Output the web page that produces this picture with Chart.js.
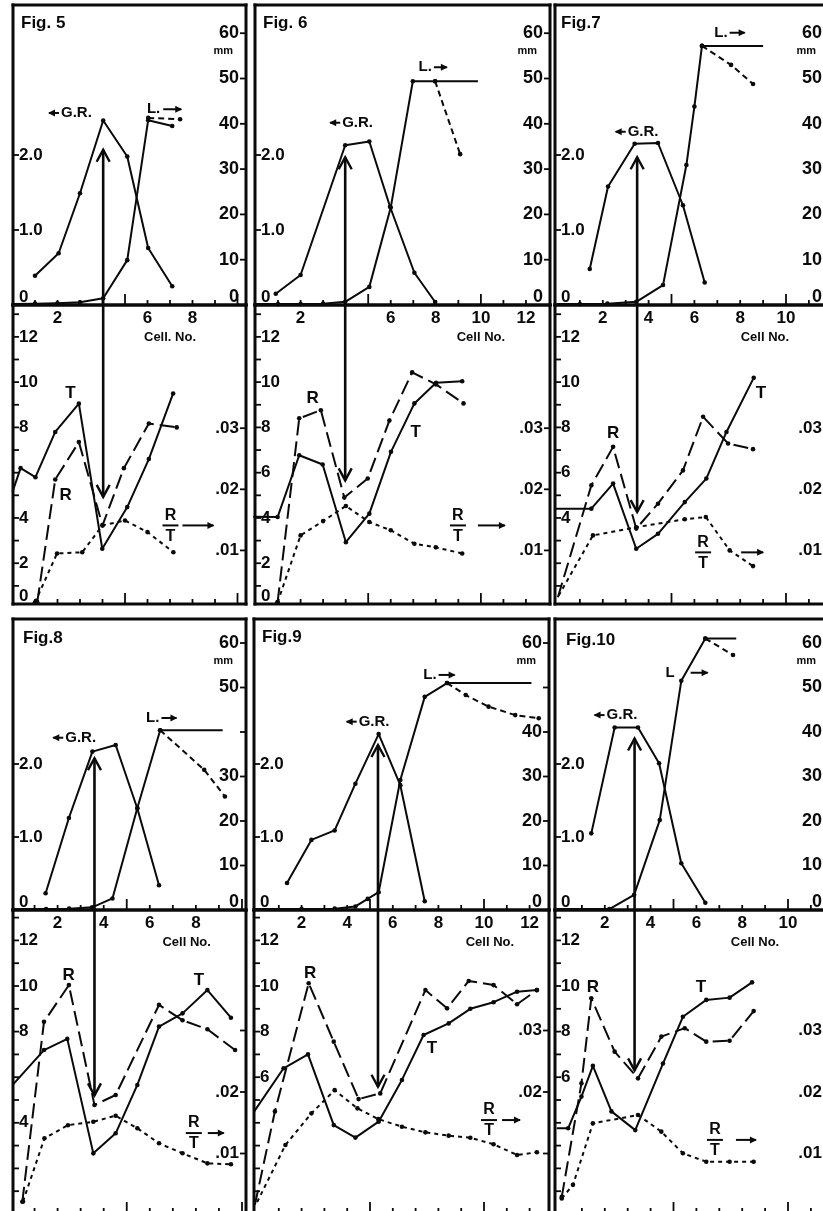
<!DOCTYPE html>
<html><head><meta charset="utf-8">
<script src="https://cdn.jsdelivr.net/npm/chart.js@4.4.0/dist/chart.umd.min.js"></script>
<style>
html,body{margin:0;padding:0;background:#fff;overflow:hidden;width:823px;height:1211px;position:relative;}
canvas{position:absolute;}
</style></head><body>
<script>
// ---------------- DATA (cell number, value) ----------------
// Fig 5
const fig5GR = [[1,0.39],[2.05,0.69],[3,1.49],[4.03,2.46],[5.1,1.98],[6.03,0.76],[7.1,0.25]];
const fig5L = [[0,0.2],[1,0.3],[2,0.4],[3,0.6],[4.03,1.5],[5.1,9.9],[6.03,40.8],[7.1,39.5]];
const fig5Ldash = [[6.03,41.3],[7.45,41.0]];
const fig5T = [[0,5.15],[0.36,6.2],[1.02,5.8],[1.9,7.8],[2.95,9.05],[3.99,2.64],[5.1,4.48],[6.06,6.6],[7.14,9.5]];
const fig5R = [[1.1,0.28],[1.9,5.7],[2.95,7.35],[4.0,3.67],[4.95,6.2],[6.06,8.17],[7.3,8.0]];
const fig5RT = [[1.0,0.0015],[1.98,0.0095],[3.1,0.0097],[4.0,0.0141],[5.0,0.0149],[6.0,0.0130],[7.15,0.0097]];
const fig5Arrow = [4.03, 2.07, 4.93];
// Fig 6
const fig6GR = [[0.9,0.15],[2.0,0.4],[3.98,2.13],[5.05,2.18],[5.97,1.31],[7.05,0.43],[7.97,0.04]];
const fig6L = [[0,0.2],[1,0.2],[2,0.2],[3,0.3],[3.98,0.7],[5.05,4.0],[6.0,21.5],[6.98,49.4],[7.97,49.4],[9.87,49.4]];
const fig6Ldash = [[7.97,49.4],[9.08,33.3]];
const fig6T = [[-0.1,4.05],[0.98,4.04],[1.94,6.77],[2.98,6.36],[4.01,2.93],[5.05,4.19],[6.01,6.92],[7.05,9.06],[8.01,9.97],[9.17,10.04]];
const fig6R = [[0.98,0.28],[1.94,8.4],[2.9,8.76],[3.94,4.9],[4.98,5.74],[5.94,8.3],[6.95,10.43],[8.01,9.9],[9.23,9.06]];
const fig6RT = [[0.98,0.0015],[2.0,0.01246],[3.0,0.0148],[4.01,0.01727],[5.05,0.01464],[6.0,0.0133],[7.05,0.0111],[8.0,0.0105],[9.17,0.0095]];
const fig6Arrow = [3.98, 1.97, 5.66];
// Fig 7
const fig7GR = [[1.43,0.48],[2.23,1.58],[3.39,2.15],[4.41,2.16],[5.5,1.33],[6.45,0.30]];
const fig7L = [[0,0.2],[1,0.2],[2.2,0.3],[3.46,0.7],[4.63,4.4],[5.65,30.9],[6.0,43.8],[6.33,57.2],[9.0,57.2]];
const fig7Ldash = [[6.33,57.2],[7.6,53.0],[8.56,48.8]];
const fig7T = [[-0.1,4.41],[1.5,4.41],[2.45,5.52],[3.46,2.64],[4.41,3.30],[5.58,4.7],[6.52,5.74],[7.4,7.8],[8.59,10.19]];
const fig7R = [[0.04,0.5],[1.5,5.44],[2.45,7.14],[3.46,3.53],[4.41,4.63],[5.5,6.1],[6.38,8.47],[7.47,7.29],[8.56,7.04]];
const fig7RT = [[0.07,0.0026],[1.57,0.01246],[3.46,0.0138],[5.58,0.0151],[6.5,0.01546],[7.54,0.0100],[8.56,0.00743]];
const fig7Arrow = [3.5, 1.97, 4.26];
// Fig 8
const fig8GR = [[1.48,0.23],[2.49,1.26],[3.51,2.17],[4.52,2.26],[5.46,1.39],[6.4,0.34]];
const fig8L = [[0.1,0.2],[1.5,0.2],[2.5,0.3],[3.5,0.6],[4.38,2.6],[5.46,22.9],[6.45,40.4],[9.16,40.4]];
const fig8Ldash = [[6.45,40.4],[8.36,31.5],[9.26,25.5]];
const fig8T = [[0.05,5.66],[1.41,7.19],[2.42,7.68],[3.55,2.66],[4.52,3.54],[5.46,5.66],[6.4,8.22],[7.42,8.8],[8.5,9.82],[9.52,8.61]];
const fig8R = [[0.47,0.54],[1.41,8.43],[2.49,10.04],[3.6,4.78],[4.52,5.22],[6.4,9.17],[7.42,8.5],[8.5,8.1],[9.7,7.19]];
const fig8RT = [[0.5,0.0022],[1.43,0.01247],[2.45,0.0146],[3.55,0.01517],[4.52,0.01615],[5.46,0.0141],[6.4,0.01166],[7.42,0.01003],[8.5,0.0084],[9.52,0.00824]];
const fig8Arrow = [3.6, 2.08, 5.2];
// Fig 9
const fig9GR = [[1.36,0.37],[2.43,0.96],[3.45,1.09],[4.36,1.73],[5.38,2.41],[6.33,1.71],[7.4,0.12]];
const fig9L = [[-0.1,0.2],[2,0.2],[3.45,0.3],[4.36,0.8],[4.9,2.5],[5.38,4.0],[6.33,29.2],[7.4,47.9],[8.38,51.0],[12.08,51.0]];
const fig9Ldash = [[8.38,51.0],[9.2,48.3],[10.2,45.7],[11.37,43.8],[12.4,43.1]];
const fig9T = [[-0.1,4.47],[1.21,6.39],[2.28,7.0],[3.41,3.9],[4.36,3.35],[5.38,4.05],[6.4,5.88],[7.35,7.85],[8.45,8.36],[9.4,9.0],[10.42,9.29],[11.45,9.75],[12.32,9.82]];
const fig9R = [[-0.05,0.4],[0.83,4.5],[2.31,10.12],[3.41,7.56],[4.5,5.04],[5.45,5.29],[7.43,9.82],[8.38,9.02],[9.33,10.22],[10.42,10.04],[11.45,9.2],[12.32,9.82]];
const fig9RT = [[0.05,0.0021],[1.29,0.01138],[2.43,0.01653],[3.45,0.0203],[4.45,0.01734],[5.36,0.0156],[6.4,0.01436],[7.43,0.01344],[8.45,0.0129],[9.4,0.01257],[10.42,0.0115],[11.45,0.00976],[12.32,0.0102]];
const fig9Arrow = [5.35, 2.26, 5.58];
// Fig 10
const fig10GR = [[1.41,1.05],[2.43,2.5],[3.45,2.5],[4.37,2.01],[5.34,0.64],[6.39,0.10]];
const fig10L = [[-0.1,0.2],[2.2,0.2],[3.28,3.4],[4.4,20.2],[5.34,51.5],[6.39,61.0],[7.74,61.0]];
const fig10Ldash = [[6.39,61.0],[7.6,57.3]];
const fig10T = [[-0.1,3.76],[0.4,3.76],[0.98,5.15],[1.48,6.5],[2.29,4.5],[3.33,3.68],[4.54,6.6],[5.41,8.65],[6.43,9.39],[7.45,9.49],[8.43,10.16]];
const fig10R = [[0.12,0.75],[0.98,5.73],[1.41,9.46],[2.43,7.12],[3.45,5.95],[4.47,7.78],[5.49,8.15],[6.43,7.56],[7.45,7.6],[8.5,8.9]];
const fig10RT = [[0.12,0.0027],[0.61,0.0049],[1.48,0.0149],[3.45,0.01626],[4.47,0.01355],[5.41,0.01003],[6.43,0.00867],[7.45,0.00867],[8.5,0.00867]];
const fig10Arrow = [3.3, 2.35, 6.3];

// ---------------- TICK LABELS ----------------
const grTickLabels = [0, 1, 2];
const lTickMarks = [10, 20, 30, 40, 50, 60];
const lLabelsA = [0, 10, 20, 30, 40, 50, 60];
const lLabels8 = [0, 10, 20, 30, 50, 60];
const lLabels9 = [0, 10, 20, 30, 40, 60];
const tLabels5 = [0, 2, 4, 8, 10, 12];
const tLabels6 = [0, 2, 4, 6, 8, 10, 12];
const tLabels7 = [4, 6, 8, 10, 12];
const tLabels8 = [4, 8, 10, 12];
const tLabels9 = [6, 8, 10, 12];
const tLabels10 = [6, 8, 10, 12];
const rtTickMarks = [0.01, 0.02, 0.03];
const rtLabelsA = [0.01, 0.02, 0.03];
const rtLabels8 = [0.01, 0.02];
const rtLabels9 = [0.02, 0.03];
const xLabels5 = [2, 6, 8];
const xLabels6 = [2, 6, 8, 10, 12];
const xLabels7 = [2, 4, 6, 8, 10];
const xLabels8 = [2, 4, 6, 8];
const xLabels9 = [2, 4, 6, 8, 10, 12];
const xLabels10 = [2, 4, 6, 8, 10];

// ---------------- STYLE / LAYOUT ----------------
const INK = '#0a0a0a';
const FF = '"Liberation Sans", Arial, sans-serif';
const ROWS = {
  top: {frameTop:5, mid:305, bottom:603.5, grZero:305, grPx:75, lZero:305, lPx:4.53, tZero:608, tPx:22.6, rtZero:611, rtPx:6100},
  bot: {frameTop:619, mid:910, bottom:1213, grZero:910, grPx:73, lZero:910, lPx:4.45, tZero:1214, tPx:22.8, rtZero:1215, rtPx:6150}
};

const fmtGR = v => v === 0 ? '0' : v.toFixed(1);
const fmtInt = v => String(v);
const fmtRT = v => v.toFixed(2).replace(/^0/, '');

const paper = {
  id: 'paper',
  afterDatasetsDraw(chart, args, o) {
    const ctx = chart.ctx, a = chart.chartArea, S = chart.scales, xs = S.x;
    ctx.save();
    ctx.strokeStyle = INK; ctx.fillStyle = INK; ctx.lineCap = 'butt';
    const seg = (x1, y1, x2, y2, w) => { ctx.lineWidth = w; ctx.beginPath(); ctx.moveTo(x1, y1); ctx.lineTo(x2, y2); ctx.stroke(); };
    const F = 3;
    if (o.sides.includes('t')) seg(a.left - 1.5, a.top, a.right + 1.5, a.top, F);
    if (o.sides.includes('b')) seg(a.left - 1.5, a.bottom, a.right + 1.5, a.bottom, F);
    if (o.sides.includes('l')) seg(a.left, a.top - 1.5, a.left, a.bottom + 1.5, F);
    if (o.sides.includes('r')) seg(a.right, a.top - 1.5, a.right, a.bottom + 1.5, F);
    // x tick marks (inward, up)
    for (let c = Math.ceil(xs.min); c <= xs.max; c++) {
      if (c <= 0) continue;
      const px = xs.getPixelForValue(c);
      if (px > a.right - 3) continue;
      seg(px, a.bottom, px, a.bottom - (c % 5 === 0 ? 11 : 5), 1.8);
    }
    // y axes
    for (const ax of o.axes) {
      const sc = S[ax.id];
      const left = ax.side === 'l';
      const edge = left ? a.left : a.right;
      for (const v of ax.marks) {
        const py = sc.getPixelForValue(v);
        if (py < a.top + 2 || py > a.bottom - 2) continue;
        seg(edge, py, edge + (left ? 6 : -6), py, 1.8);
      }
      ctx.font = ax.font; ctx.textAlign = left ? 'left' : 'right'; ctx.textBaseline = 'middle';
      for (const v of ax.labels) {
        let py = sc.getPixelForValue(v);
        py = Math.min(py, a.bottom - 8);
        ctx.fillText(ax.fmt(v), edge + (left ? ax.off : -ax.off), py);
      }
      if (ax.unit) {
        ctx.font = 'bold 11px ' + FF;
        ctx.fillText(ax.unit, edge - 13, sc.getPixelForValue(ax.unitAt) + 18);
      }
    }
    // x labels below bottom line
    if (o.xLabels) {
      ctx.font = 'bold 17px ' + FF; ctx.textAlign = 'center'; ctx.textBaseline = 'middle';
      for (const v of o.xLabels) ctx.fillText(String(v), xs.getPixelForValue(v), a.bottom + o.xLabelDy);
      ctx.font = 'bold 13px ' + FF;
      ctx.fillText(o.cellText, xs.getPixelForValue(o.cellX), a.bottom + o.cellDy);
    }
    // title
    if (o.title) {
      ctx.font = 'bold 17px ' + FF; ctx.textAlign = 'left'; ctx.textBaseline = 'middle';
      ctx.fillText(o.title.t, a.left + o.title.dx, a.top + o.title.dy);
    }
    const smallArrow = (x1, x2, y) => {
      seg(x1, y, x2, y, 2);
      const d = x2 > x1 ? 1 : -1;
      ctx.beginPath(); ctx.moveTo(x2 + d * 1, y); ctx.lineTo(x2 - d * 6, y - 3.5); ctx.lineTo(x2 - d * 6, y + 3.5); ctx.closePath(); ctx.fill();
    };
    // text labels
    for (const t of (o.texts || [])) {
      const px = xs.getPixelForValue(t.x), py = S[t.axis].getPixelForValue(t.y);
      ctx.font = t.font || ('bold 16px ' + FF); ctx.textAlign = 'center'; ctx.textBaseline = 'middle';
      ctx.fillText(t.t, px, py);
      const w = ctx.measureText(t.t).width;
      if (t.arrowL) smallArrow(px - w / 2 - t.arrowL[0], px - w / 2 - t.arrowL[0] - t.arrowL[1], py);
      if (t.arrowR) smallArrow(px + w / 2 + t.arrowR[0], px + w / 2 + t.arrowR[0] + t.arrowR[1], py);
    }
    // fraction R/T
    if (o.frac) {
      const f = o.frac;
      const px = xs.getPixelForValue(f.x), py = S[f.axis].getPixelForValue(f.y);
      ctx.font = 'bold 16px ' + FF; ctx.textAlign = 'center'; ctx.textBaseline = 'middle';
      ctx.fillText('R', px, py - 10);
      seg(px - 8, py, px + 8, py, 2);
      ctx.fillText('T', px, py + 11);
      smallArrow(px + f.a0, px + f.a1, py);
    }
    // big arrow head
    if (o.head) {
      const h = o.head;
      const px = xs.getPixelForValue(h.x), py = S[h.axis].getPixelForValue(h.y);
      const d = h.dir === 'up' ? 1 : -1;
      ctx.lineWidth = 2.4; ctx.lineJoin = 'miter';
      ctx.beginPath(); ctx.moveTo(px - 6.5, py + d * 12); ctx.lineTo(px, py); ctx.lineTo(px + 6.5, py + d * 12); ctx.stroke();
    }
    ctx.restore();
  }
};

function pts(arr) { return arr.map(p => ({x: p[0], y: p[1]})); }

function lineDS(data, axis, dash, xMin, extra) {
  return Object.assign({
    data: pts(data), yAxisID: axis, borderColor: INK, backgroundColor: INK,
    borderWidth: 2, borderDash: dash, borderJoinStyle: 'round',
    pointRadius: c => (c.raw && c.raw.x < xMin + 0.2) ? 0 : 2.3,
    pointBackgroundColor: INK, pointBorderWidth: 0, pointHoverRadius: 0,
    tension: 0, fill: false, clip: 3
  }, extra || {});
}

function shaft(x, y1, y2, axis) {
  return {data: [{x: x, y: y1}, {x: x, y: y2}], yAxisID: axis, borderColor: INK, borderWidth: 2.6, pointRadius: 0, fill: false, clip: 0};
}

function yScale(min, max, pos) {
  return {type: 'linear', axis: 'y', position: pos, min: min, max: max, display: false};
}

function makeChart(rect, padBottom, scales, datasets, paperOpts) {
  const pad = 6;
  const cv = document.createElement('canvas');
  const w = Math.round(rect.r - rect.l + 2 * pad), h = Math.round(rect.b - rect.t + pad + padBottom);
  cv.width = w; cv.height = h;
  cv.style.left = (rect.l - pad) + 'px'; cv.style.top = (rect.t - pad) + 'px';
  cv.style.width = w + 'px'; cv.style.height = h + 'px';
  document.body.appendChild(cv);
  new Chart(cv, {
    type: 'line', data: {datasets},
    options: {
      responsive: false, animation: false, devicePixelRatio: 1,
      layout: {padding: {left: pad, right: pad, top: pad, bottom: padBottom}},
      plugins: {legend: {display: false}, tooltip: {enabled: false}, paper: paperOpts},
      scales, events: []
    },
    plugins: [paper]
  });
}

function figure(f) {
  const R = ROWS[f.row];
  const xMin = (f.left - f.x0) / f.unit, xMax = (f.right - f.x0) / f.unit;
  const grMax = (R.grZero - R.frameTop) / R.grPx;
  const lMax = (R.lZero - R.frameTop) / R.lPx;
  const tMin = (R.tZero - R.bottom) / R.tPx, tMax = (R.tZero - R.mid) / R.tPx;
  const rtMin = (R.rtZero - R.bottom) / R.rtPx, rtMax = (R.rtZero - R.mid) / R.rtPx;
  const X = {type: 'linear', axis: 'x', position: 'bottom', min: xMin, max: xMax, display: false};
  const tMarks = []; for (let v = 1; v <= 13; v++) tMarks.push(v);
  const lbl = 'bold 17px ' + FF;
  // lower panel
  makeChart({l: f.left, r: f.right, t: R.mid, b: R.bottom}, 6, {
    x: X,
    yT: yScale(tMin, tMax, 'left'),
    yRT: yScale(rtMin, rtMax, 'right')
  }, [
    lineDS(f.T, 'yT', [], xMin),
    lineDS(f.R, 'yT', [15, 6], xMin),
    lineDS(f.RT, 'yRT', [4, 4], xMin),
    shaft(f.arrow[0], tMax, f.arrow[2], 'yT')
  ], {
    sides: 'lrbt',
    axes: [
      {id: 'yT', side: 'l', marks: tMarks, labels: f.tLabels, fmt: fmtInt, font: lbl, off: 6},
      {id: 'yRT', side: 'r', marks: rtTickMarks, labels: f.rtLabels, fmt: fmtRT, font: lbl, off: 7}
    ],
    texts: [
      {t: 'T', x: f.tText[0], y: f.tText[1], axis: 'yT', font: 'bold 17px ' + FF},
      {t: 'R', x: f.rText[0], y: f.rText[1], axis: 'yT', font: 'bold 17px ' + FF}
    ],
    frac: {x: f.frac[0], y: f.frac[1], axis: 'yT', a0: f.frac[2], a1: f.frac[3]},
    head: {x: f.arrow[0], y: f.arrow[2], axis: 'yT', dir: 'down'}
  });
  // upper panel
  makeChart({l: f.left, r: f.right, t: R.frameTop, b: R.mid}, 44, {
    x: X,
    yGR: yScale(0, grMax, 'left'),
    yL: yScale(0, lMax, 'right')
  }, [
    lineDS(f.GR, 'yGR', [], xMin),
    lineDS(f.L, 'yL', [], xMin, f.lastDot ? {} : {pointRadius: c => (c.dataIndex === f.L.length - 1 || (c.raw && c.raw.x < xMin + 0.2)) ? 0 : 2.3}),
    lineDS(f.Ldash, 'yL', [6, 4], xMin),
    shaft(f.arrow[0], 0, f.arrow[1], 'yGR')
  ], {
    sides: 'lrtb',
    axes: [
      {id: 'yGR', side: 'l', marks: [1, 2], labels: grTickLabels, fmt: fmtGR, font: lbl, off: 6},
      {id: 'yL', side: 'r', marks: lTickMarks, labels: f.lLabels, fmt: fmtInt, font: 'bold 18px ' + FF, off: 7, unit: 'mm', unitAt: 60}
    ],
    xLabels: f.xLabels, xLabelDy: 13, cellText: f.cellText, cellX: f.cellX, cellDy: 32,
    title: f.title,
    texts: [
      {t: 'G.R.', x: f.grText[0], y: f.grText[1], axis: 'yGR', font: 'bold 15px ' + FF, arrowL: [2, 10]},
      {t: f.lText[2], x: f.lText[0], y: f.lText[1], axis: 'yGR', font: 'bold 15px ' + FF, arrowR: [f.lText[3], f.lText[4]]}
    ],
    head: {x: f.arrow[0], y: f.arrow[1], axis: 'yGR', dir: 'up'}
  });
}

figure({row: 'top', left: 12.5, right: 245.5, x0: 12, unit: 22.5,
  GR: fig5GR, L: fig5L, Ldash: fig5Ldash, T: fig5T, R: fig5R, RT: fig5RT, arrow: fig5Arrow, lastDot: true,
  lLabels: lLabelsA, tLabels: tLabels5, rtLabels: rtLabelsA, xLabels: xLabels5,
  cellText: 'Cell. No.', cellX: 7.0, title: {t: 'Fig. 5', dx: 8, dy: 18},
  grText: [2.84, 2.56], lText: [6.27, 2.61, 'L.', 3, 18], tText: [2.58, 9.51], rText: [2.36, 5.0], frac: [7.02, 3.67, 12, 43]});
figure({row: 'top', left: 254.5, right: 549, x0: 255, unit: 22.5,
  GR: fig6GR, L: fig6L, Ldash: fig6Ldash, T: fig6T, R: fig6R, RT: fig6RT, arrow: fig6Arrow,
  lLabels: lLabelsA, tLabels: tLabels6, rtLabels: rtLabelsA, xLabels: xLabels6,
  cellText: 'Cell No.', cellX: 10.0, title: {t: 'Fig. 6', dx: 8, dy: 18},
  grText: [4.53, 2.43], lText: [7.53, 3.17, 'L.', 2, 13], tText: [7.11, 7.79], rText: [2.53, 9.29], frac: [8.98, 3.67, 20, 47]});
figure({row: 'top', left: 555, right: 829, x0: 557, unit: 22.9,
  GR: fig7GR, L: fig7L, Ldash: fig7Ldash, T: fig7T, R: fig7R, RT: fig7RT, arrow: fig7Arrow,
  lLabels: lLabelsA, tLabels: tLabels7, rtLabels: rtLabelsA, xLabels: xLabels7,
  cellText: 'Cell No.', cellX: 9.08, title: {t: 'Fig.7', dx: 6, dy: 18},
  grText: [3.76, 2.31], lText: [7.16, 3.63, 'L.', 2, 15], tText: [8.91, 9.51], rText: [2.45, 7.74], frac: [6.38, 2.48, 38, 60]});
figure({row: 'bot', left: 12.5, right: 245, x0: 11, unit: 23,
  GR: fig8GR, L: fig8L, Ldash: fig8Ldash, T: fig8T, R: fig8R, RT: fig8RT, arrow: fig8Arrow,
  lLabels: lLabels8, tLabels: tLabels8, rtLabels: rtLabels8, xLabels: xLabels8,
  cellText: 'Cell No.', cellX: 7.6, title: {t: 'Fig.8', dx: 10, dy: 19},
  grText: [3.0, 2.36], lText: [6.13, 2.63, 'L.', 2, 15], tText: [8.13, 10.26], rText: [2.48, 10.48], frac: [7.91, 3.55, 14, 30]});
figure({row: 'bot', left: 254, right: 549, x0: 256, unit: 22.8,
  GR: fig9GR, L: fig9L, Ldash: fig9Ldash, T: fig9T, R: fig9R, RT: fig9RT, arrow: fig9Arrow,
  lLabels: lLabels9, tLabels: tLabels9, rtLabels: rtLabels9, xLabels: xLabels9,
  cellText: 'Cell No.', cellX: 10.26, title: {t: 'Fig.9', dx: 8, dy: 18},
  grText: [5.18, 2.58], lText: [7.63, 3.22, 'L.', 2, 16], tText: [7.72, 7.28], rText: [2.37, 10.57], frac: [10.22, 4.12, 13, 31]});
figure({row: 'bot', left: 555, right: 829, x0: 559, unit: 22.9,
  GR: fig10GR, L: fig10L, Ldash: fig10Ldash, T: fig10T, R: fig10R, RT: fig10RT, arrow: fig10Arrow,
  lLabels: lLabelsA, tLabels: tLabels10, rtLabels: rtLabelsA, xLabels: xLabels10,
  cellText: 'Cell No.', cellX: 8.56, title: {t: 'Fig.10', dx: 11, dy: 21},
  grText: [2.75, 2.67], lText: [4.85, 3.25, 'L', 16, 17], tText: [6.2, 9.96], rText: [1.48, 9.96], frac: [6.81, 3.25, 21, 41]});
</script>
</body></html>
